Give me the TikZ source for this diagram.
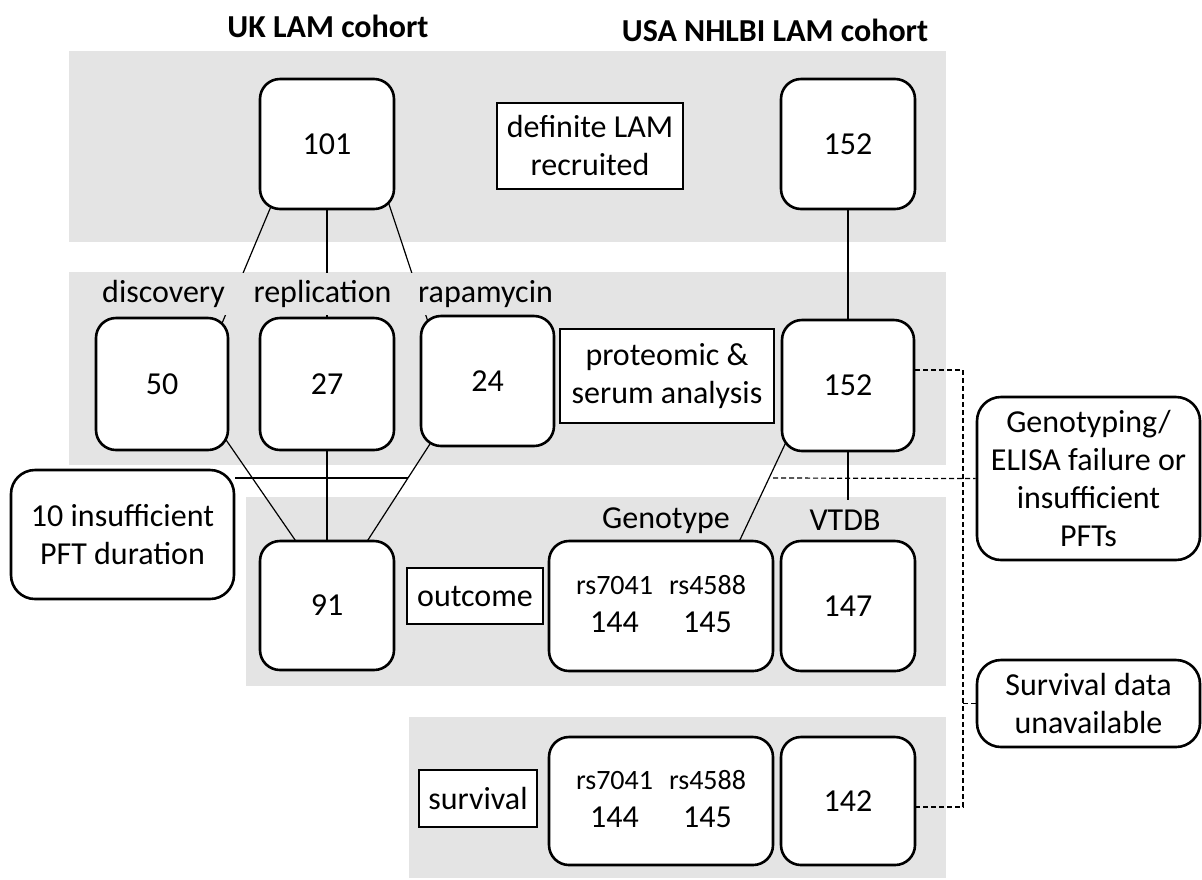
\documentclass[tikz,border=0pt]{standalone}
\usepackage{fontspec}
\setmainfont{Carlito}
\usepackage{xcolor}
\definecolor{panelgray}{RGB}{228,228,228}
\tikzset{>=latex}
\pgfdeclarelayer{bg}
\pgfdeclarelayer{links}
\pgfsetlayers{bg,links,main}
\tikzset{
  numbox/.style={draw, line width=1.3pt, rounded corners=10pt, fill=white, inner sep=0pt,
    minimum width=67pt, minimum height=65pt},
  tagbox/.style={draw, line width=1.3pt, fill=white, inner sep=2pt, align=center},
  notebox/.style={draw, line width=1.3pt, rounded corners=12pt, fill=white, inner sep=2pt,
    align=center, minimum width=111.5pt},
  lbl/.style={fill=panelgray, inner sep=0pt, minimum height=21pt},
  title/.style={font=\fontsize{16}{19}\selectfont\bfseries},
  link/.style={line width=0.6pt, shorten <=-6pt, shorten >=-6pt},
  dashlink/.style={line width=0.6pt, dash pattern=on 2.5pt off 1.5pt}
}
\newcommand{\snppair}{{\setlength{\tabcolsep}{4pt}%
  \begin{tabular}{cc}\fontsize{14}{17}\selectfont rs7041 & \fontsize{14}{17}\selectfont rs4588\\
  144 & 145\end{tabular}}}

\begin{document}
\begin{tikzpicture}[x=0.5pt, y=-0.5pt, every node/.style={font=\fontsize{16}{19}\selectfont}]
\useasboundingbox (0,0) rectangle (1202,879);
\begin{pgfonlayer}{bg}
  \fill[panelgray] (69,51) rectangle (946,242);
  \fill[panelgray] (69,272) rectangle (946,465);
  \fill[panelgray] (246,497) rectangle (946,686);
  \fill[panelgray] (409,717) rectangle (946,878);
\end{pgfonlayer}

\node[title] (ukhead) at (328,26) {UK LAM cohort};
\node[title] (usahead) at (775,30) {USA NHLBI LAM cohort};

\node[numbox] (n101) at (327,144) {101};
\node[tagbox, minimum width=93pt, minimum height=43pt] (recruit) at (590,146) {definite LAM\\recruited};
\node[numbox] (u152) at (848,144) {152};

\node[lbl, minimum width=85pt] (discl) at (163.5,294) {discovery};
\node[lbl] (repl) at (322.5,294) {replication};
\node[lbl, minimum width=80pt] (rapl) at (485.5,294) {rapamycin};
\node[numbox, minimum width=66pt, minimum height=66pt] (n50) at (162,384) {50};
\node[numbox, minimum height=66pt] (n27) at (327,384) {27};
\node[numbox, minimum width=66.5pt] (n24) at (487.5,381) {24};
\node[tagbox, minimum width=107pt, minimum height=47pt] (proteo) at (667,376) {proteomic \&\\serum analysis};
\node[numbox, minimum width=66pt, minimum height=65.5pt] (m152) at (848,385.5) {152};

\node[notebox, minimum height=64.5pt] (ins) at (122.5,534.5) {10 insufficient\\PFT duration};
\node[notebox, minimum height=81.5pt] (gfail) at (1088.5,478.5) {Genotyping/\\ELISA failure or\\insufficient\\PFTs};
\node[notebox, minimum height=43.5pt] (sda) at (1088.5,703.5) {Survival data\\unavailable};

\node[lbl] (genol) at (666,521) {Genotype};
\node[lbl, minimum height=20pt] (vtdbl) at (845,520) {VTDB};
\node[numbox, minimum height=64.5pt] (n91) at (327,605.5) {91};
\node[tagbox, minimum width=68pt, minimum height=28pt] (outc) at (475,596) {outcome};
\node[numbox, minimum width=112pt] (geno1) at (661,606) {\snppair};
\node[numbox] (n147) at (848,606) {147};

\node[tagbox, minimum width=59pt, minimum height=28.5pt] (surv) at (478,798.5) {survival};
\node[numbox, minimum width=112pt, minimum height=64pt] (geno2) at (661,801) {\snppair};
\node[numbox, minimum height=64pt] (n142) at (848,801) {142};

\coordinate (pftcut) at (408,478);
\coordinate (genocut) at (773,478);
\coordinate (dtop) at (963,370);
\coordinate (dbot) at (963,807);

\begin{pgfonlayer}{links}
  \draw[link] (n101.229) -- (n50.47);
  \draw[link] (n101.south) -- (n27.north);
  \draw[link] (n101.314) -- (n24.133);
  \draw[link] (u152.south) -- (m152.north);
  \draw[link] (n50.318) -- (n91.116);
  \draw[link] (n27.south) -- (n91.north);
  \draw[link] (n24.228) -- (n91.58);
  \draw[link] (m152.225) -- (geno1.40);
  \draw[link] (m152.south) -- (n147.north);
  \draw[line width=0.6pt] (ins.east |- pftcut) -- (pftcut);
  \draw[dashlink] (genocut) -- (gfail.west);
  \draw[dashlink] (m152.east |- dtop) -- (dtop) -- (dbot) -- (n142.east |- dbot);
  \draw[dashlink] (sda.west -| dtop) -- (sda.west);
\end{pgfonlayer}
\end{tikzpicture}
\end{document}
